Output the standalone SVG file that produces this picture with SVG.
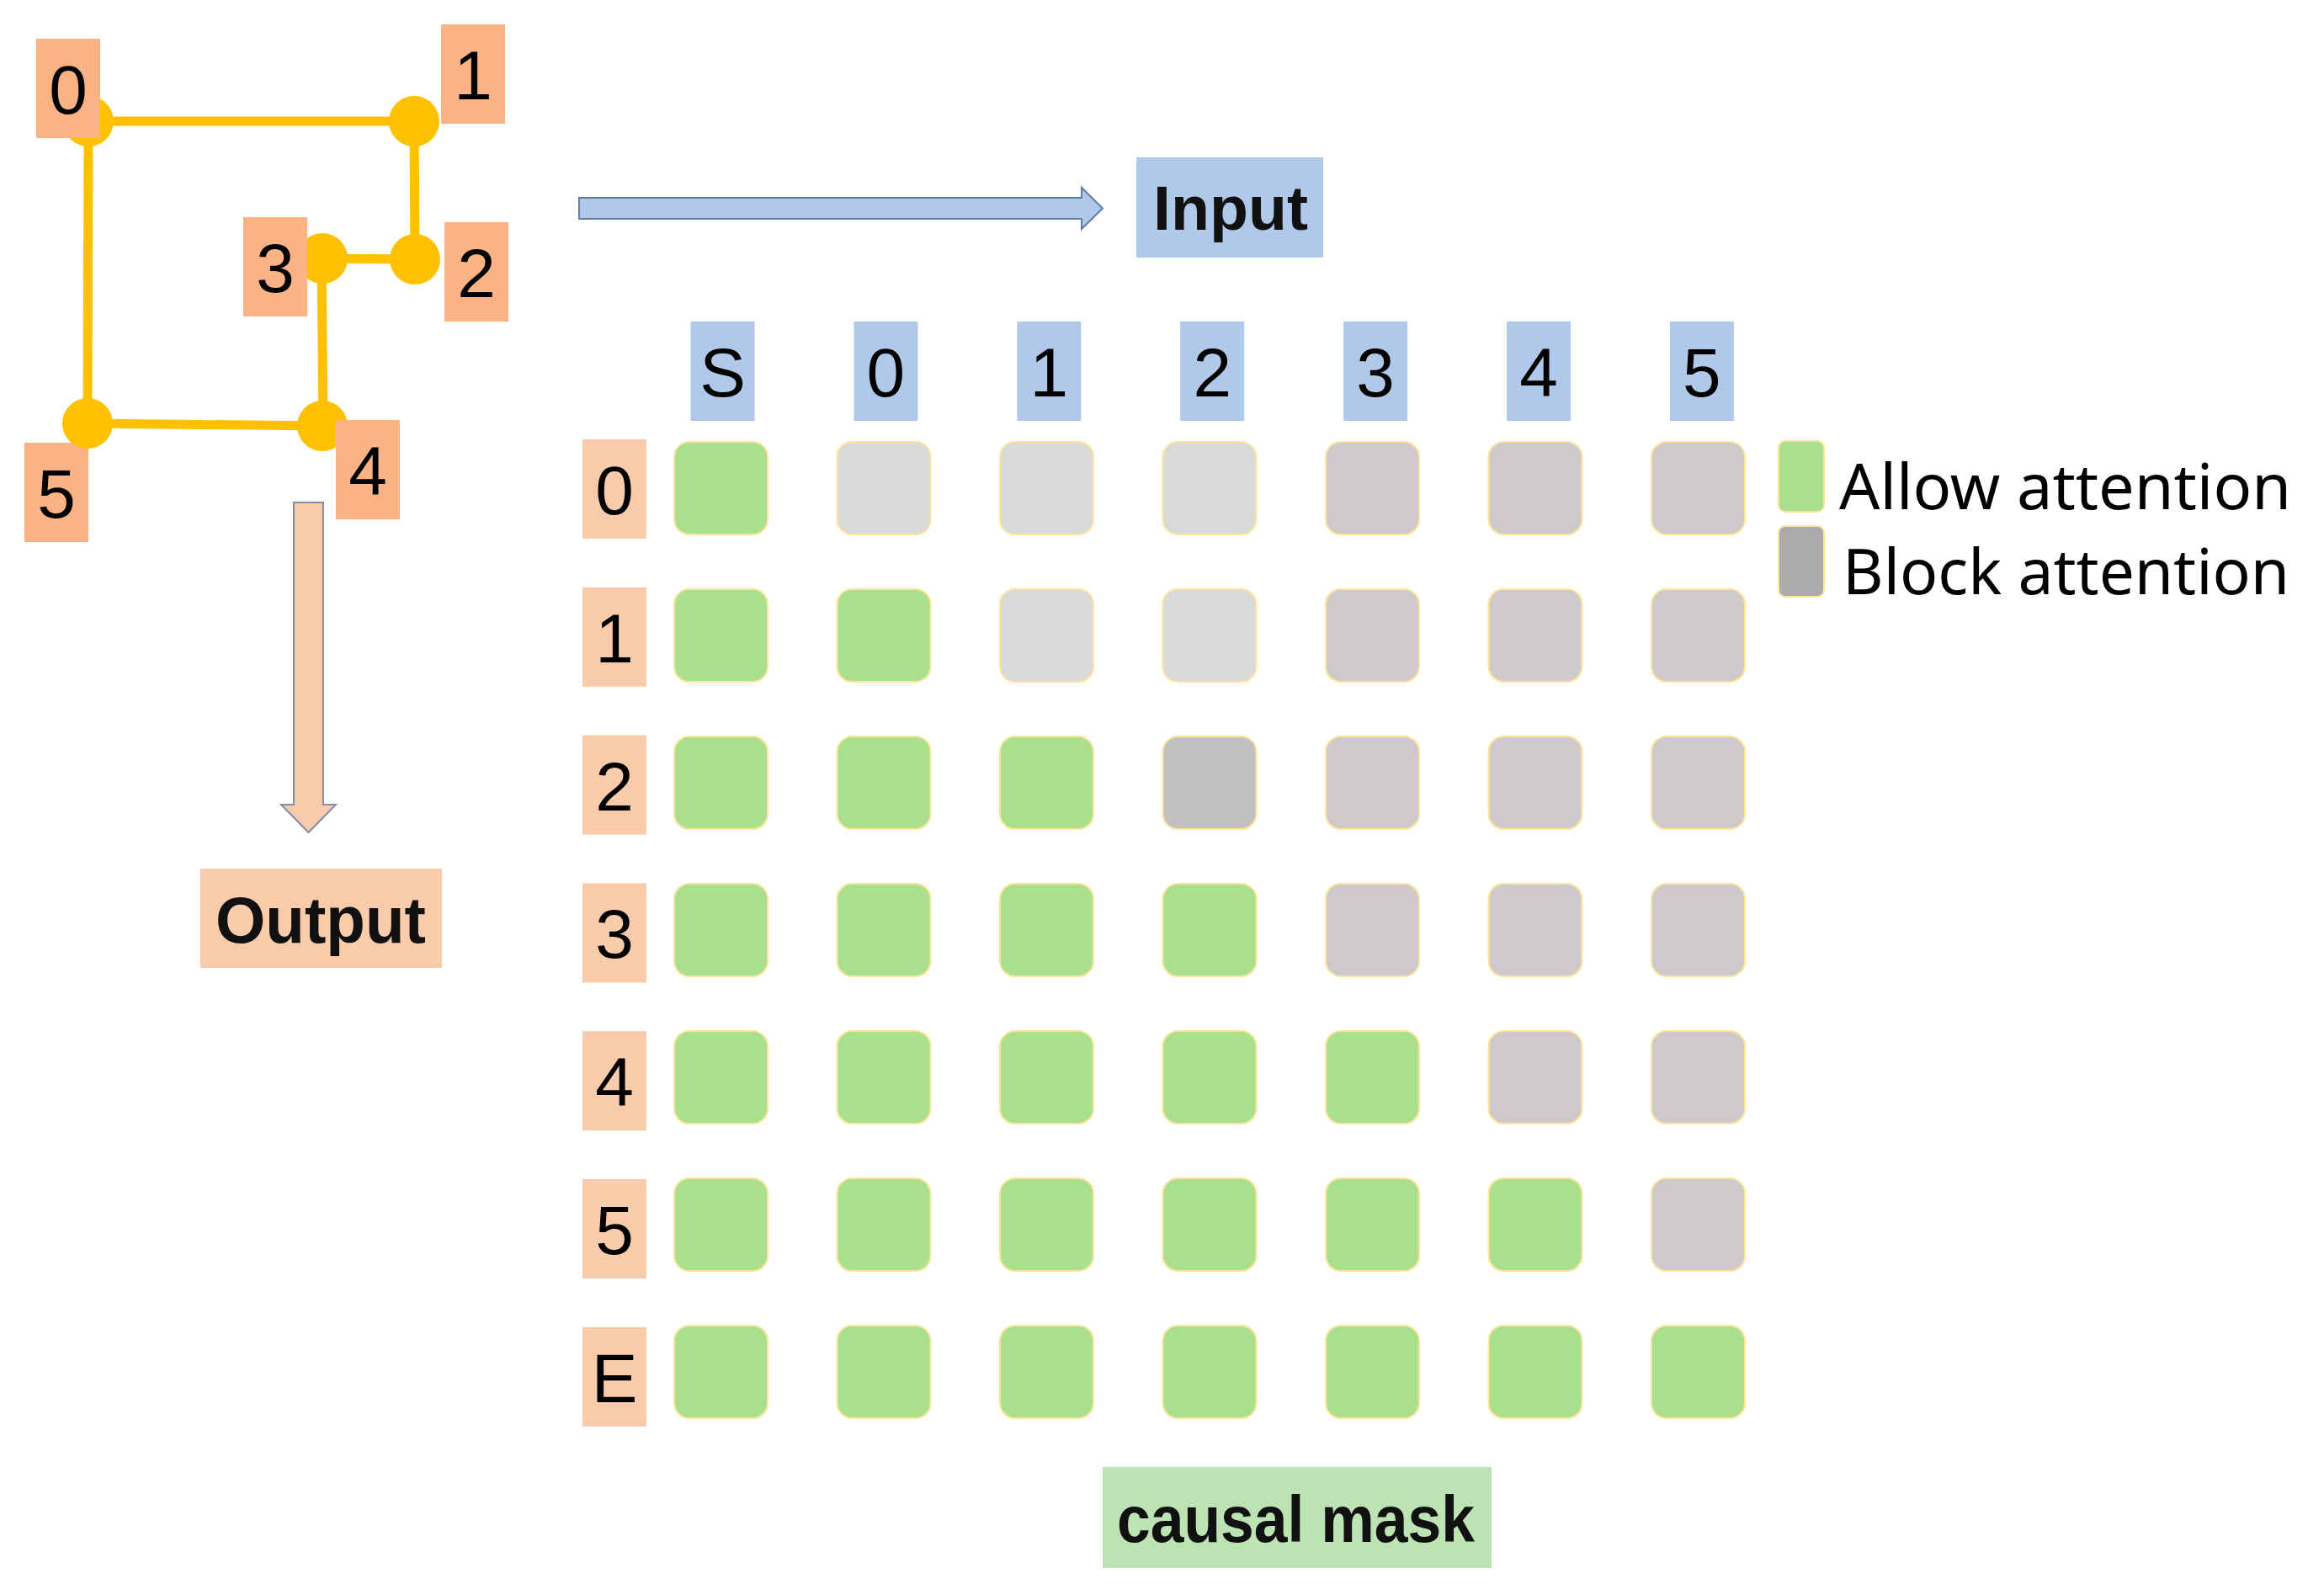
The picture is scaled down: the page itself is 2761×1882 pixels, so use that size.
<svg xmlns="http://www.w3.org/2000/svg" width="2761" height="1882" viewBox="0 0 2761 1882">
<style>
.edge{stroke:#FFC000;stroke-width:11;fill:none;stroke-linecap:round}
.dot{fill:#FFC000}
.glab{fill:#FBB386}
.rlab{fill:#F9CBAA}
.hlab{fill:#B0C8E9}
.dig{font-family:"Liberation Sans",Arial,sans-serif;font-size:82px;fill:#000;text-anchor:middle}
.bold{font-family:"Liberation Sans",Arial,sans-serif;font-weight:bold;fill:#111;}
.leg{font-family:"Noto Sans","Liberation Sans",sans-serif;font-size:74px;fill:#000}
.c{stroke:#FFE49A;stroke-width:2}
.g{fill:#A9E08E}
.l{fill:#D9D9D9}
.p{fill:#CECACB}
.d{fill:#C3C0C1}
</style>
<rect width="2761" height="1882" fill="#fff"/>
<g id="connectors">
<line class="edge" x1="105" y1="144" x2="492" y2="144"/>
<line class="edge" x1="105" y1="144" x2="104" y2="503"/>
<line class="edge" x1="492" y1="144" x2="493" y2="308"/>
<line class="edge" x1="493" y1="308" x2="383" y2="307"/>
<line class="edge" x1="382" y1="307" x2="384" y2="506"/>
<line class="edge" x1="104" y1="503" x2="383" y2="506"/>
<path id="input-arrow" d="M688,235 H1285 V223 L1310,247.5 L1285,272 V260 H688 Z" fill="#B0C8E9" stroke="#5E7CA6" stroke-width="2"/>
<path id="output-arrow" d="M349,597 H384 V956 H399 L366.5,989 L334,956 H349 Z" fill="#F9CBAA" stroke="#7F8FA6" stroke-width="2"/>
</g>
<g id="node5"><rect class="glab" x="29" y="526" width="76" height="118"/><circle class="dot" cx="104" cy="503" r="30"/><text class="dig" x="67" y="614.5">5</text></g>
<g id="node0"><circle class="dot" cx="105" cy="144" r="30"/><rect class="glab" x="43" y="46" width="76" height="118"/><text class="dig" x="81" y="134.5">0</text></g>
<g id="node1"><circle class="dot" cx="492" cy="144" r="30"/><rect class="glab" x="524" y="29" width="76" height="118"/><text class="dig" x="562" y="117.5">1</text></g>
<g id="node2"><circle class="dot" cx="493" cy="308" r="30"/><rect class="glab" x="528" y="264" width="76" height="118"/><text class="dig" x="566" y="352.5">2</text></g>
<g id="node3"><circle class="dot" cx="383" cy="307" r="30"/><rect class="glab" x="289" y="258" width="76" height="118"/><text class="dig" x="327" y="346.5">3</text></g>
<g id="node4"><circle class="dot" cx="383" cy="506" r="30"/><rect class="glab" x="399" y="499" width="76" height="118"/><text class="dig" x="437" y="587.5">4</text></g>
<g id="input"><rect class="hlab" x="1350" y="187" width="222" height="119"/><text class="bold" x="1370" y="273" font-size="74" textLength="184" lengthAdjust="spacingAndGlyphs">Input</text></g>
<g id="output"><rect class="rlab" x="238" y="1032" width="287" height="118"/><text class="bold" x="256" y="1119.5" font-size="77" textLength="250" lengthAdjust="spacingAndGlyphs">Output</text></g>
<g id="causal-mask"><rect x="1310" y="1743" width="462" height="120" fill="#BDE3B5"/><text class="bold" x="1327" y="1832" font-size="78" textLength="425" lengthAdjust="spacingAndGlyphs">causal mask</text></g>
<g id="headers">
<g id="h-S"><rect class="hlab" x="820.5" y="382" width="76" height="118"/><text class="dig" x="858.5" y="470.5">S</text></g>
<g id="h-0"><rect class="hlab" x="1014.4" y="382" width="76" height="118"/><text class="dig" x="1052.4" y="470.5">0</text></g>
<g id="h-1"><rect class="hlab" x="1208.3" y="382" width="76" height="118"/><text class="dig" x="1246.3" y="470.5">1</text></g>
<g id="h-2"><rect class="hlab" x="1402.2" y="382" width="76" height="118"/><text class="dig" x="1440.2" y="470.5">2</text></g>
<g id="h-3"><rect class="hlab" x="1596.1" y="382" width="76" height="118"/><text class="dig" x="1634.1" y="470.5">3</text></g>
<g id="h-4"><rect class="hlab" x="1790" y="382" width="76" height="118"/><text class="dig" x="1828" y="470.5">4</text></g>
<g id="h-5"><rect class="hlab" x="1983.9" y="382" width="76" height="118"/><text class="dig" x="2021.9" y="470.5">5</text></g>
</g>
<g id="rows">
<g id="r-0"><rect class="rlab" x="692" y="522" width="76" height="118"/><text class="dig" x="730" y="611">0</text></g>
<g id="r-1"><rect class="rlab" x="692" y="697.8" width="76" height="118"/><text class="dig" x="730" y="786.8">1</text></g>
<g id="r-2"><rect class="rlab" x="692" y="873.6" width="76" height="118"/><text class="dig" x="730" y="962.6">2</text></g>
<g id="r-3"><rect class="rlab" x="692" y="1049.4" width="76" height="118"/><text class="dig" x="730" y="1138.4">3</text></g>
<g id="r-4"><rect class="rlab" x="692" y="1225.2" width="76" height="118"/><text class="dig" x="730" y="1314.2">4</text></g>
<g id="r-5"><rect class="rlab" x="692" y="1401" width="76" height="118"/><text class="dig" x="730" y="1490">5</text></g>
<g id="r-E"><rect class="rlab" x="692" y="1576.8" width="76" height="118"/><text class="dig" x="730" y="1665.8">E</text></g>
</g>
<g id="cells">
<g id="row0" transform="translate(0,525)">
<rect class="c g" x="801" width="111" height="110" rx="18"/><rect class="c l" x="994.5" width="111" height="110" rx="18"/><rect class="c l" x="1188" width="111" height="110" rx="18"/><rect class="c l" x="1381.5" width="111" height="110" rx="18"/><rect class="c p" x="1575" width="111" height="110" rx="18"/><rect class="c p" x="1768.5" width="111" height="110" rx="18"/><rect class="c p" x="1962" width="111" height="110" rx="18"/>
</g>
<g id="row1" transform="translate(0,700)">
<rect class="c g" x="801" width="111" height="110" rx="18"/><rect class="c g" x="994.5" width="111" height="110" rx="18"/><rect class="c l" x="1188" width="111" height="110" rx="18"/><rect class="c l" x="1381.5" width="111" height="110" rx="18"/><rect class="c p" x="1575" width="111" height="110" rx="18"/><rect class="c p" x="1768.5" width="111" height="110" rx="18"/><rect class="c p" x="1962" width="111" height="110" rx="18"/>
</g>
<g id="row2" transform="translate(0,875)">
<rect class="c g" x="801" width="111" height="110" rx="18"/><rect class="c g" x="994.5" width="111" height="110" rx="18"/><rect class="c g" x="1188" width="111" height="110" rx="18"/><rect class="c d" x="1381.5" width="111" height="110" rx="18"/><rect class="c p" x="1575" width="111" height="110" rx="18"/><rect class="c p" x="1768.5" width="111" height="110" rx="18"/><rect class="c p" x="1962" width="111" height="110" rx="18"/>
</g>
<g id="row3" transform="translate(0,1050)">
<rect class="c g" x="801" width="111" height="110" rx="18"/><rect class="c g" x="994.5" width="111" height="110" rx="18"/><rect class="c g" x="1188" width="111" height="110" rx="18"/><rect class="c g" x="1381.5" width="111" height="110" rx="18"/><rect class="c p" x="1575" width="111" height="110" rx="18"/><rect class="c p" x="1768.5" width="111" height="110" rx="18"/><rect class="c p" x="1962" width="111" height="110" rx="18"/>
</g>
<g id="row4" transform="translate(0,1225)">
<rect class="c g" x="801" width="111" height="110" rx="18"/><rect class="c g" x="994.5" width="111" height="110" rx="18"/><rect class="c g" x="1188" width="111" height="110" rx="18"/><rect class="c g" x="1381.5" width="111" height="110" rx="18"/><rect class="c g" x="1575" width="111" height="110" rx="18"/><rect class="c p" x="1768.5" width="111" height="110" rx="18"/><rect class="c p" x="1962" width="111" height="110" rx="18"/>
</g>
<g id="row5" transform="translate(0,1400)">
<rect class="c g" x="801" width="111" height="110" rx="18"/><rect class="c g" x="994.5" width="111" height="110" rx="18"/><rect class="c g" x="1188" width="111" height="110" rx="18"/><rect class="c g" x="1381.5" width="111" height="110" rx="18"/><rect class="c g" x="1575" width="111" height="110" rx="18"/><rect class="c g" x="1768.5" width="111" height="110" rx="18"/><rect class="c p" x="1962" width="111" height="110" rx="18"/>
</g>
<g id="rowE" transform="translate(0,1575)">
<rect class="c g" x="801" width="111" height="110" rx="18"/><rect class="c g" x="994.5" width="111" height="110" rx="18"/><rect class="c g" x="1188" width="111" height="110" rx="18"/><rect class="c g" x="1381.5" width="111" height="110" rx="18"/><rect class="c g" x="1575" width="111" height="110" rx="18"/><rect class="c g" x="1768.5" width="111" height="110" rx="18"/><rect class="c g" x="1962" width="111" height="110" rx="18"/>
</g>
</g>
<g id="legend">
<g id="legend-allow"><rect class="c g" x="2113" y="524" width="54" height="84" rx="8"/><text class="leg" x="2185" y="605" textLength="537" lengthAdjust="spacingAndGlyphs">Allow attention</text></g>
<g id="legend-block"><rect class="c" x="2113" y="625" width="54" height="84" rx="8" fill="#ABABAB"/><text class="leg" x="2189" y="706" textLength="531" lengthAdjust="spacingAndGlyphs">Block attention</text></g>
</g>
</svg>
